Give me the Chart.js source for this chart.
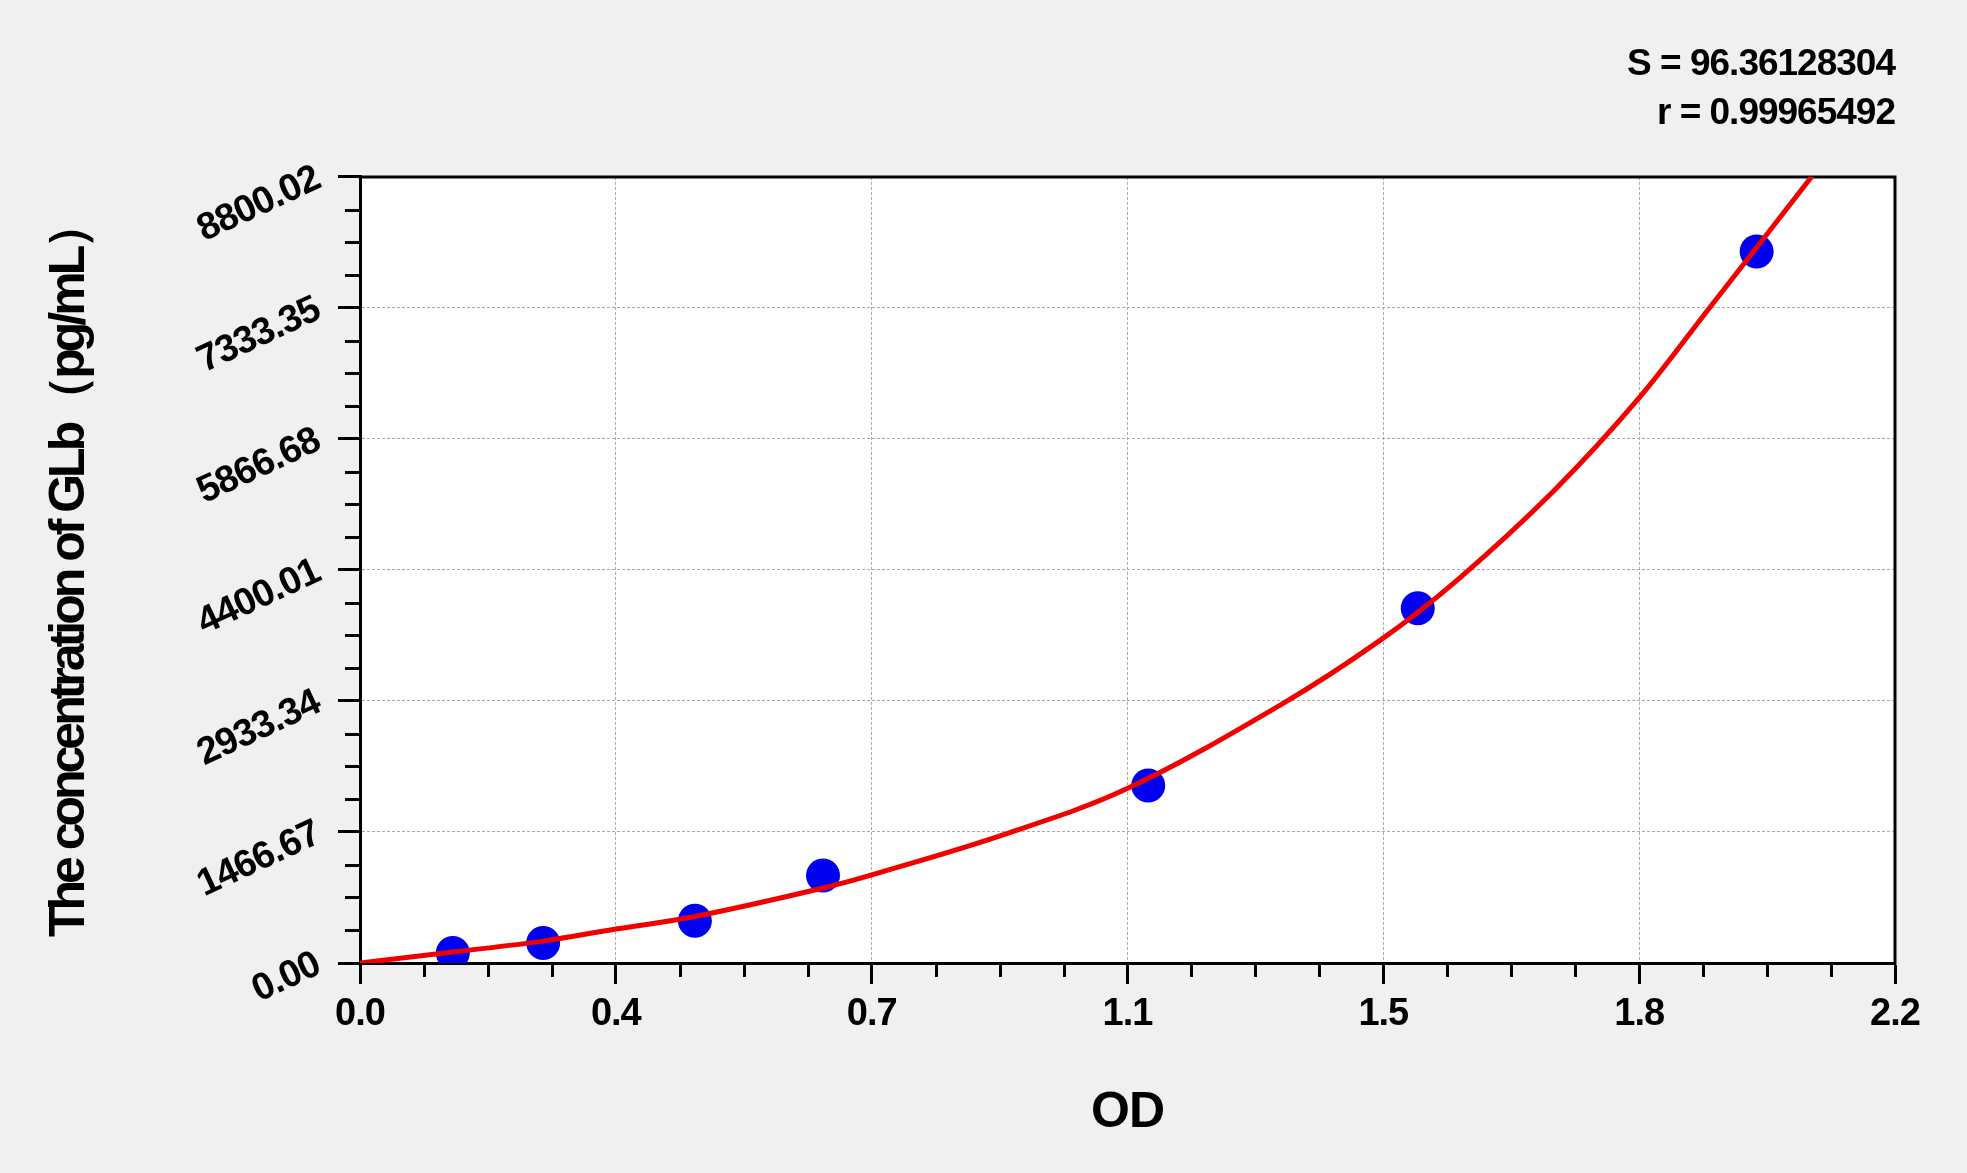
<!DOCTYPE html>
<html>
<head>
<meta charset="utf-8">
<script src="https://cdn.jsdelivr.net/npm/chart.js@4.4.0/dist/chart.umd.min.js"></script>
<style>
html,body{margin:0;padding:0;background:#f0f0f0;overflow:hidden}
canvas{display:block}
</style>
</head>
<body>
<canvas id="c" width="1967" height="1173"></canvas>
<script>
// ---- data ----
const pointOD   = [0.133, 0.2625, 0.480, 0.6636, 1.1297, 1.516, 2.0017];
const pointConc = [112, 224, 473, 980, 1987, 3972, 7965];

const curveOD   = [0, 0.133, 0.2625, 0.3667, 0.480, 0.6636, 0.7458, 0.9227, 1.0996, 1.3195, 1.4629, 1.573, 1.7115, 1.8326, 1.934, 2.0017, 2.084];
const curveConc = [0, 123, 245, 380, 520, 839, 1015, 1438, 1953, 2890, 3617, 4290, 5290, 6320, 7333, 8010, 8838];

const xTickLabels = ['0.0', '0.4', '0.7', '1.1', '1.5', '1.8', '2.2'];
const yTickLabels = ['0.00', '1466.67', '2933.34', '4400.01', '5866.68', '7333.35', '8800.02'];
const xRange = [0, 2.2];
const yRange = [0, 8800.02];
const minorPerMajor = 4;

const statLines = ['S = 96.36128304', 'r = 0.99965492'];
const xTitle = 'OD';
const yTitle = 'The concentration of GLb（pg/mL）';

// ---- helpers ----
const FONT = "'Liberation Sans', Arial, Helvetica, sans-serif";
function evenTicks(range, n) {
  const out = [];
  for (let i = 0; i < n; i++) out.push({ value: range[0] + (range[1] - range[0]) * i / (n - 1) });
  return out;
}

const framePlugin = {
  id: 'frame',
  beforeDraw(chart) {
    const { ctx, chartArea: a, width, height } = chart;
    ctx.save();
    ctx.fillStyle = '#f0f0f0';
    ctx.fillRect(0, 0, width, height);
    ctx.fillStyle = '#ffffff';
    ctx.fillRect(a.left, a.top, a.right - a.left, a.bottom - a.top);
    ctx.restore();
    ctx.letterSpacing = '-1px';
    const ys = chart.scales.y;
    if (ys && !ys.__patched) {
      const orig = ys.drawTitle.bind(ys);
      ys.drawTitle = function () {
        const c = this.ctx;
        const prev = c.letterSpacing;
        c.letterSpacing = '-4px';
        orig();
        c.letterSpacing = prev;
      };
      ys.__patched = true;
    }
  },
  beforeDatasetsDraw(chart) {
    const { ctx, chartArea: a } = chart;
    const xs = chart.scales.x, ys = chart.scales.y;
    ctx.save();
    ctx.strokeStyle = '#000';
    ctx.lineWidth = 3;
    ctx.beginPath();
    ctx.moveTo(a.left - 1.5, a.top);
    ctx.lineTo(a.right, a.top);
    ctx.lineTo(a.right, a.bottom + 1.5);
    ctx.stroke();
    // minor ticks
    ctx.beginPath();
    const xt = xs.ticks;
    for (let i = 0; i < xt.length - 1; i++) {
      for (let k = 1; k < minorPerMajor; k++) {
        const v = xt[i].value + (xt[i + 1].value - xt[i].value) * k / minorPerMajor;
        const px = Math.round(xs.getPixelForValue(v)) + 0.5;
        ctx.moveTo(px, a.bottom);
        ctx.lineTo(px, a.bottom + 14);
      }
    }
    const yt = ys.ticks;
    for (let i = 0; i < yt.length - 1; i++) {
      for (let k = 1; k < minorPerMajor; k++) {
        const v = yt[i].value + (yt[i + 1].value - yt[i].value) * k / minorPerMajor;
        const py = Math.round(ys.getPixelForValue(v)) + 0.5;
        ctx.moveTo(a.left, py);
        ctx.lineTo(a.left - 15, py);
      }
    }
    ctx.stroke();
    ctx.restore();
  }
};

const chart = new Chart(document.getElementById('c'), {
  type: 'scatter',
  data: {
    datasets: [
      {
        label: 'fit',
        data: curveOD.map((x, i) => ({ x, y: curveConc[i] })),
        showLine: true,
        borderColor: '#f20000',
        borderWidth: 5,
        pointRadius: 0,
        tension: 0.35,
        order: 0
      },
      {
        label: 'standards',
        data: pointOD.map((x, i) => ({ x, y: pointConc[i] })),
        showLine: false,
        backgroundColor: '#0000f0',
        borderWidth: 0,
        pointRadius: 17,
        order: 1
      }
    ]
  },
  options: {
    responsive: false,
    devicePixelRatio: 1,
    animation: false,
    events: [],
    layout: { padding: { left: 0, right: 72, top: 0, bottom: 0 } },
    plugins: {
      legend: { display: false },
      tooltip: { enabled: false },
      title: {
        display: true,
        text: statLines,
        align: 'end',
        fullSize: false,
        color: '#000',
        font: { family: FONT, size: 37, weight: 'bold', lineHeight: 1.31 },
        padding: { top: 41, bottom: 39 }
      }
    },
    scales: {
      x: {
        type: 'linear',
        position: 'bottom',
        min: xRange[0],
        max: xRange[1],
        afterBuildTicks: (s) => { s.ticks = evenTicks(xRange, xTickLabels.length); },
        afterFit: (s) => { s.height = 210; },
        ticks: {
          autoSkip: false,
          maxRotation: 0,
          minRotation: 0,
          padding: 8,
          color: '#000',
          font: { family: FONT, size: 38, weight: 'bold' },
          callback: (v, i) => xTickLabels[i]
        },
        grid: {
          color: '#aaaaaa',
          lineWidth: 1,
          tickLength: 21,
          tickWidth: 3,
          tickColor: '#000',
          tickBorderDash: []
        },
        border: { display: true, color: '#000', width: 3, dash: [3, 2] },
        title: {
          display: true,
          text: xTitle,
          color: '#000',
          font: { family: FONT, size: 50, weight: 'bold' },
          padding: { top: 0, bottom: 30 }
        }
      },
      y: {
        type: 'linear',
        position: 'left',
        min: yRange[0],
        max: yRange[1],
        afterBuildTicks: (s) => { s.ticks = evenTicks(yRange, yTickLabels.length); },
        afterFit: (s) => { s.width = 360; },
        ticks: {
          autoSkip: false,
          minRotation: 25,
          maxRotation: 25,
          padding: 20,
          color: '#000',
          font: { family: FONT, size: 38, weight: 'bold' },
          callback: (v, i) => yTickLabels[i]
        },
        grid: {
          color: '#aaaaaa',
          lineWidth: 1,
          tickLength: 22,
          tickWidth: 3,
          tickColor: '#000',
          tickBorderDash: []
        },
        border: { display: true, color: '#000', width: 3, dash: [3, 2] },
        title: {
          display: true,
          text: yTitle,
          color: '#000',
          font: { family: FONT, size: 50, weight: 'bold' },
          padding: { top: 40, bottom: 0 }
        }
      }
    }
  },
  plugins: [framePlugin]
});
chart.draw();
</script>
</body>
</html>
